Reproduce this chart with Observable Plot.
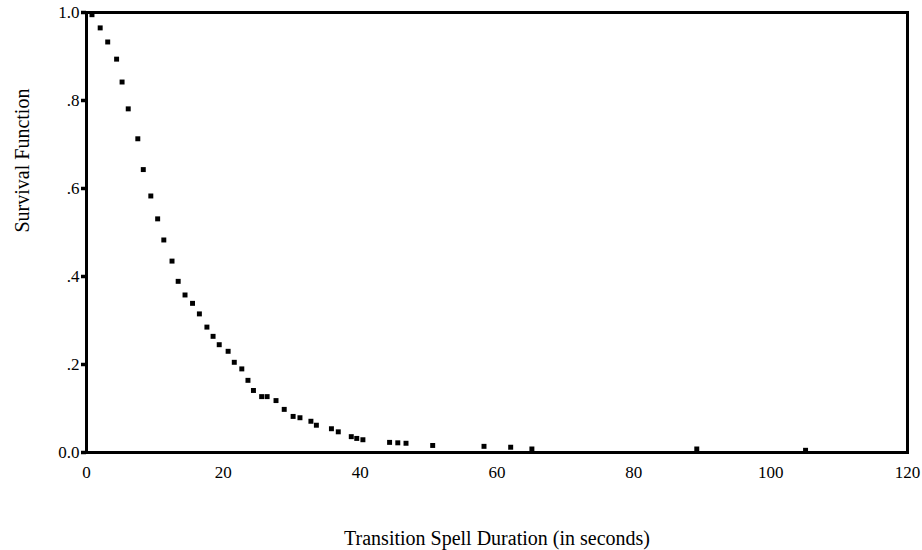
<!DOCTYPE html>
<html>
<head>
<meta charset="utf-8">
<script src="https://cdn.jsdelivr.net/npm/d3@7"></script>
<script src="https://cdn.jsdelivr.net/npm/@observablehq/plot@0.6"></script>
<style>
  html, body { margin: 0; padding: 0; background: #fff; }
  #chart { width: 922px; height: 550px; }
</style>
</head>
<body>
<div id="chart"></div>
<script>
const durations = [0.8, 2.0, 3.1, 4.4, 5.2, 6.1, 7.5, 8.3, 9.4, 10.4, 11.3, 12.5, 13.4, 14.4, 15.5, 16.5, 17.6, 18.5, 19.4, 20.7, 21.6, 22.7, 23.6, 24.4, 25.6, 26.4, 27.7, 28.9, 30.2, 31.2, 32.8, 33.6, 35.8, 36.8, 38.7, 39.5, 40.4, 44.3, 45.5, 46.7, 50.6, 58.1, 62.0, 65.1, 89.2, 105.1];
const survival = [0.995, 0.965, 0.933, 0.894, 0.842, 0.781, 0.713, 0.643, 0.583, 0.531, 0.483, 0.435, 0.389, 0.358, 0.339, 0.315, 0.285, 0.264, 0.245, 0.230, 0.205, 0.190, 0.164, 0.141, 0.127, 0.127, 0.118, 0.098, 0.082, 0.079, 0.071, 0.062, 0.054, 0.047, 0.036, 0.032, 0.029, 0.023, 0.022, 0.021, 0.016, 0.014, 0.012, 0.008, 0.008, 0.005];
const xTicks = [0, 20, 40, 60, 80, 100, 120];
const yTicks = [0, 0.2, 0.4, 0.6, 0.8, 1.0];
const yTickLabels = ["0.0", ".2", ".4", ".6", ".8", "1.0"];
const xLabel = "Transition Spell Duration (in seconds)";
const yLabel = "Survival Function";

const data = durations.map((t, i) => ({t, s: survival[i]}));

const chart = Plot.plot({
  width: 922,
  height: 550,
  marginLeft: 86,
  marginRight: 15,
  marginTop: 12,
  marginBottom: 98,
  style: {fontFamily: "'Liberation Serif', 'Times New Roman', serif", fontSize: "17px", color: "#000", background: "#fff"},
  x: {domain: [0, 120]},
  y: {domain: [0, 1]},
  marks: [
    Plot.axisX({
      ticks: xTicks, tickSize: 0, tickPadding: 13, fontSize: 17,
      label: xLabel, labelAnchor: "center", labelArrow: "none", labelOffset: 92
    }),
    Plot.axisY({
      ticks: yTicks, tickSize: 5, strokeWidth: 3.5, tickPadding: 2, fontSize: 17,
      tickFormat: (d, i) => yTickLabels[i],
      label: null
    }),
    Plot.text([yLabel], {
      frameAnchor: "left", dx: -64, rotate: -90, fontSize: 20, fill: "#000"
    }),
    Plot.frame({stroke: "#000", strokeWidth: 3}),
    Plot.dot(data, {x: "t", y: "s", symbol: "square", r: 2.8, fill: "#000", stroke: "none"})
  ]
});
document.getElementById("chart").appendChild(chart);
chart.querySelectorAll("[aria-label='x-axis label'] text").forEach(t => t.setAttribute("font-size", "20"));
</script>
</body>
</html>
